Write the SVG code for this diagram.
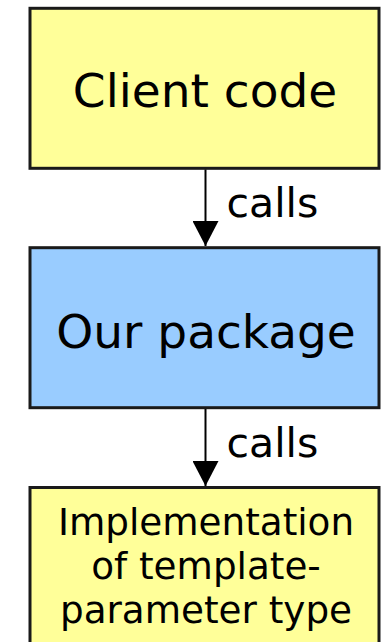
<svg xmlns="http://www.w3.org/2000/svg" width="381" height="642" viewBox="0 0 381 642">
  <style>
    .box { stroke: #1a1a1a; stroke-width: 3; }
    .yellow { fill: #ffff99; }
    .blue { fill: #99ccff; }
    .label { font-family: "DejaVu Sans", Verdana, sans-serif; fill: #000; text-anchor: middle; }
    .edge { stroke: #000; stroke-width: 2; fill: none; }
    .edge-label { font-family: "DejaVu Sans", Verdana, sans-serif; font-size: 41px; fill: #000; }
  </style>
  <defs>
    <marker id="arrow" markerUnits="userSpaceOnUse" markerWidth="26" markerHeight="26" refX="25" refY="13" orient="auto">
      <path d="M0,0 L25,13 L0,26 Z" fill="#000"/>
    </marker>
  </defs>
  <rect width="381" height="642" fill="#ffffff"/>

  <g id="client">
    <rect class="box yellow" x="30" y="8.3" width="349" height="160"/>
    <text class="label" x="205" y="106.5" font-size="47">Client code</text>
  </g>

  <g id="package">
    <rect class="box blue" x="30" y="247.7" width="349" height="160"/>
    <text class="label" x="206" y="347.5" font-size="47">Our package</text>
  </g>

  <g id="implementation">
    <rect class="box yellow" x="30" y="487.5" width="349" height="170"/>
    <text class="label" x="206" y="535" font-size="37.3">Implementation</text>
    <text class="label" x="206" y="579" font-size="37.3">of template-</text>
    <text class="label" x="206" y="623" font-size="37.3">parameter type</text>
  </g>

  <g id="connectors">
    <line class="edge" x1="205.5" y1="169.5" x2="205.5" y2="246" marker-end="url(#arrow)"/>
    <text class="edge-label" x="226.5" y="217">calls</text>
    <line class="edge" x1="205.5" y1="409" x2="205.5" y2="486" marker-end="url(#arrow)"/>
    <text class="edge-label" x="226.5" y="457">calls</text>
  </g>
</svg>
